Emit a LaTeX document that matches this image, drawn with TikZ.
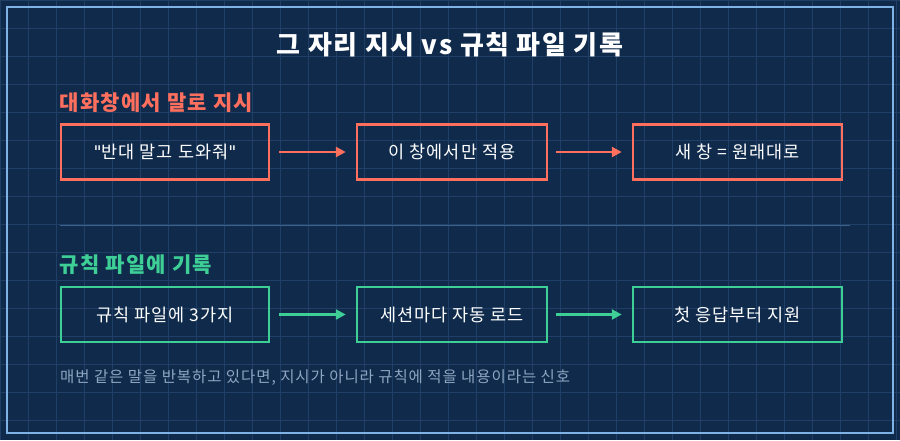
\documentclass[tikz,border=0pt]{standalone}
\usepackage{fontspec}
\setmainfont[LetterSpace=6]{Noto Sans CJK KR}
\newfontfamily\dv{DejaVu Sans}
\usetikzlibrary{arrows.meta}
\definecolor{bg}{HTML}{0F2A4B}
\definecolor{grid}{HTML}{1F3F66}
\definecolor{frame}{HTML}{7FB2E5}
\definecolor{red}{HTML}{FF6F5E}
\definecolor{grn}{HTML}{3ECF96}
\definecolor{note}{HTML}{8FA6C2}
\begin{document}
\begin{tikzpicture}[x=1pt,y=-1pt,
 box/.style={draw=#1,line width=2.5pt,minimum height=55pt,text=white,font=\fontsize{17.5}{20}\selectfont,inner sep=0pt},
 arr/.style={draw=#1,line width=2.5pt,-{Triangle[length=10pt,width=10pt]}},
 head/.style={anchor=west,font=\bfseries\fontsize{21}{25}\selectfont,text=#1}]
\useasboundingbox (0,0) rectangle (900,440);
\fill[bg] (0,0) rectangle (900,440);
\foreach \i in {0,28,...,900} \draw[grid,line width=0.8pt] (\i,0) -- (\i,440);
\foreach \j in {0,28,...,440} \draw[grid,line width=0.8pt] (0,\j) -- (900,\j);
\draw[frame,line width=2pt] (7,7) rectangle (893,433);
\node[text=white,font=\bfseries\fontsize{26}{30}\selectfont] (title) at (450,45) {그 자리 지시 vs 규칙 파일 기록};
\node[head=red] (h1) at (56,103) {대화창에서 말로 지시};
\node[box=red,minimum width=208pt] (a1) at (165,152) {{\dv\char34}반대 말고 도와줘{\dv\char34}};
\node[box=red,minimum width=190pt] (a2) at (452,152) {이 창에서만 적용};
\node[box=red,minimum width=209pt] (a3) at (737.5,152) {새 창 = 원래대로};
\draw[arr=red] ([xshift=9pt]a1.east) -- ([xshift=-10pt]a2.west);
\draw[arr=red] ([xshift=8pt]a2.east) -- ([xshift=-10pt]a3.west);
\coordinate (s1) at (60,225); \coordinate (s2) at (850,225);
\draw[grid!70!frame,line width=0.6pt] (s1) -- (s2);
\node[head=grn] (h2) at (56,265) {규칙 파일에 기록};
\node[box=grn,minimum width=208pt] (b1) at (165,314.5) {규칙 파일에 3가지};
\node[box=grn,minimum width=190pt] (b2) at (452,314.5) {세션마다 자동 로드};
\node[box=grn,minimum width=209pt] (b3) at (737.5,314.5) {첫 응답부터 지원};
\draw[arr=grn] ([xshift=9pt]b1.east) -- ([xshift=-10pt]b2.west);
\draw[arr=grn] ([xshift=8pt]b2.east) -- ([xshift=-10pt]b3.west);
\node[anchor=west,text=note,font=\fontsize{15.5}{18}\selectfont,inner xsep=0pt] (n) at (60,378) {매번 같은 말을 반복하고 있다면, 지시가 아니라 규칙에 적을 내용이라는 신호};
\end{tikzpicture}
\end{document}
